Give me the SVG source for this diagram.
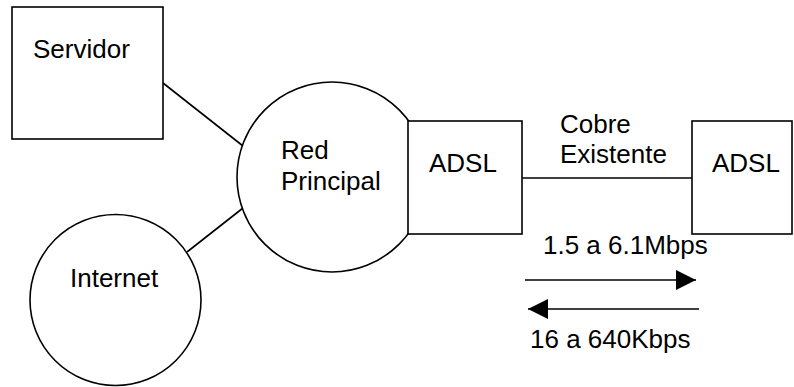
<svg xmlns="http://www.w3.org/2000/svg" width="794" height="387" viewBox="0 0 794 387">
  <style>
    .shape { fill: #ffffff; stroke: #000000; stroke-width: 1.6; }
    .link { fill: none; stroke: #000000; stroke-width: 1.6; }
    .label { font-family: "Liberation Sans", Arial, sans-serif; font-size: 26px; fill: #000000; }
  </style>
  <defs>
    <marker id="head" viewBox="0 0 20 20" markerWidth="20" markerHeight="20" refX="20" refY="10" orient="auto" markerUnits="userSpaceOnUse">
      <path d="M0,0 L20,10 L0,20 Z" fill="#000000"/>
    </marker>
  </defs>

  <!-- connectors -->
  <g id="connectors">
    <line class="link" x1="163" y1="83" x2="243" y2="146"/>
    <line class="link" x1="187" y1="252" x2="243" y2="208"/>
    <line class="link" x1="522" y1="178" x2="692" y2="178"/>
    <line class="link" x1="525" y1="280" x2="696" y2="280" marker-end="url(#head)"/>
    <line class="link" x1="699" y1="309" x2="528" y2="309" marker-end="url(#head)"/>
  </g>

  <g id="servidor">
    <rect class="shape" x="12" y="7" width="151" height="132"/>
    <text class="label" x="33" y="58">Servidor</text>
  </g>

  <g id="internet">
    <circle class="shape" cx="115.5" cy="300" r="85.5"/>
    <text class="label" x="70" y="287">Internet</text>
  </g>

  <g id="red-principal">
    <circle class="shape" cx="332" cy="177" r="95"/>
    <text class="label" x="281" y="159">Red</text>
    <text class="label" x="281" y="190">Principal</text>
  </g>

  <g id="adsl-central">
    <rect class="shape" x="408" y="121" width="114" height="113"/>
    <text class="label" x="429" y="172">ADSL</text>
  </g>

  <g id="adsl-abonado">
    <rect class="shape" x="692" y="121" width="100" height="113"/>
    <text class="label" x="712" y="172">ADSL</text>
  </g>

  <g id="labels">
    <text class="label" x="560" y="133">Cobre</text>
    <text class="label" x="560" y="163">Existente</text>
    <text class="label" x="543" y="254">1.5 a 6.1Mbps</text>
    <text class="label" x="530" y="348">16 a 640Kbps</text>
  </g>
</svg>
